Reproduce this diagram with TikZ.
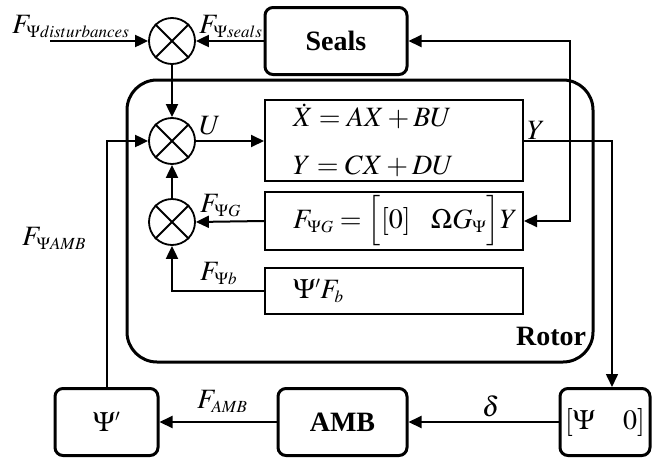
\documentclass[tikz,border=0pt]{standalone}
\usepackage{mathptmx}
\usepackage[no-math]{fontspec}
\setmainfont{Liberation Serif}
\usetikzlibrary{arrows.meta,positioning,calc}
\DeclareMathSizes{28}{28}{17}{13}

\begin{document}
\begin{tikzpicture}[x=1pt, y=-1pt,
    sum/.style={circle, draw, line width=1.8pt, minimum size=46pt, inner sep=0pt},
    blk/.style={draw, line width=3pt, rounded corners=8pt, font=\fontsize{28}{32}\selectfont\bfseries, minimum height=67pt},
    eqbox/.style={draw, line width=2pt, font=\fontsize{28}{32}\selectfont, align=left, inner xsep=28pt, text width=202pt},
    lbl/.style={font=\fontsize{28}{32}\selectfont, anchor=base west, inner sep=0pt},
    arr/.style={-{Triangle[length=13pt,width=12pt]}, line width=2pt}
  ]
    \useasboundingbox (0,0) rectangle (653,458);

    % Rotor frame
    \node[draw, line width=3pt, rounded corners=30pt, minimum width=466pt, minimum height=282pt] (rotor) at (360,221) {};
    \node[lbl, font=\fontsize{28}{32}\selectfont\bfseries] (rotorlbl) at (516,345) {Rotor};

    % Summing junctions
    \node[sum] (s0) at (172,41) {};
    \node[sum] (s1) at (172,141) {};
    \node[sum] (s2) at (172,222) {};
    \foreach \s in {s0,s1,s2} {
      \draw[line width=1.8pt] (\s.45) -- (\s.225) (\s.135) -- (\s.315);
    }

    % Blocks
    \node[blk, minimum width=142pt] (seals) at (336,41) {Seals};
    \node[eqbox, minimum height=79pt] (state) at (394,140.5) {$\dot X = AX + BU$\\[16pt]$Y = CX + DU$};
    \node[eqbox, minimum height=46pt] (gyro) at (394,221) {\mbox{$F_{\Psi G} = \Big[[0]\enspace\; \Omega G_{\Psi}\Big]Y$}};
    \node[eqbox, minimum height=46pt] (bear) at (394,291) {$\Psi' F_b$};
    \node[blk, minimum width=103pt] (psit) at (106.5,422) {$\Psi'$};
    \node[blk, minimum width=129pt] (amb) at (342.5,422) {AMB};
    \node[blk, minimum width=90pt] (psizero) at (605,422) {$[\Psi\quad 0]$};

    % Helper points
    \coordinate (din) at (50,41);
    \coordinate (ycorner) at (612,141);
    \coordinate (fb) at (570,221);

    % Connectors
    \draw[arr] (din) -- (s0.west);
    \draw[arr] (seals.west) -- (s0.east);
    \draw[arr] (s0.south) -- (s1.north);
    \draw[arr] (s1.east) -- (state.west |- s1.east);
    \draw[arr, line width=1.6pt] (state.east |- ycorner) -- (ycorner) -- (ycorner |- psizero.north);
    \draw[{Triangle[length=13pt,width=12pt]}-{Triangle[length=13pt,width=12pt]}, line width=2pt] (seals.east) -| (fb) -- (gyro.east);
    \draw[arr] (gyro.west) -- (s2.east);
    \draw[arr] (bear.west) -| (s2.south);
    \draw[arr] (s2.north) -- (s1.south);
    \draw[arr] (psit.north) |- (s1.west);
    \draw[arr] (amb.west) -- (psit.east);
    \draw[arr] (psizero.west) -- (amb.east);

    % Signal labels
    \node[lbl] (ldist) at (12,33) {$F_{\Psi disturbances}$};
    \node[lbl] (lseals) at (199,33) {$F_{\Psi seals}$};
    \node[lbl] (lu) at (199,134) {$U$};
    \node[lbl] (ly) at (527,139) {$Y$};
    \node[lbl] (lg) at (200,212) {$F_{\Psi G}$};
    \node[lbl] (lb) at (200,280) {$F_{\Psi b}$};
    \node[lbl] (lamb) at (22,245) {$F_{\Psi AMB}$};
    \node[lbl] (lfamb) at (197,408) {$F_{AMB}$};
    \node[lbl] (ldelta) at (482,416) {$\delta$};

  \end{tikzpicture}
\end{document}
